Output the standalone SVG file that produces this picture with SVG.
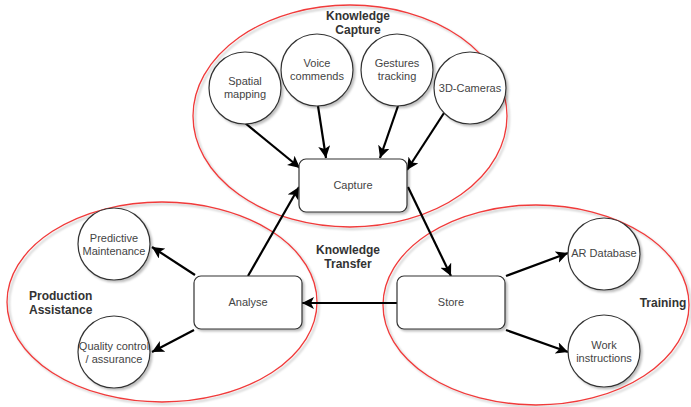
<svg xmlns="http://www.w3.org/2000/svg" width="691" height="407" viewBox="0 0 691 407">
<style>
.grp{fill:none;stroke:#f03a3a;stroke-width:1.3}
.node{fill:#fff;stroke:#333;stroke-width:1.2}
.t{font-family:"Liberation Sans",Arial,sans-serif;font-size:11px;fill:#444;text-anchor:middle}
.b{font-family:"Liberation Sans",Arial,sans-serif;font-size:12px;font-weight:bold;fill:#333}
.c{stroke:#000;stroke-width:2.2;fill:none;marker-end:url(#ah)}
</style>
<defs>
<filter id="sh" x="-20%" y="-20%" width="150%" height="150%">
<feDropShadow dx="2" dy="2" stdDeviation="1" flood-color="#000" flood-opacity="0.25"/>
</filter>
<marker id="ah" markerUnits="userSpaceOnUse" markerWidth="14" markerHeight="12" refX="12" refY="6" orient="auto">
<path d="M0,0 L12,6 L0,12 L3,6 z" fill="#000"/>
</marker>
</defs>
<g id="groups">
<ellipse class="grp" cx="350" cy="116" rx="157" ry="111" filter="url(#sh)"/>
<ellipse class="grp" cx="162" cy="302" rx="155" ry="100" filter="url(#sh)"/>
<ellipse class="grp" cx="536" cy="305" rx="153" ry="100" filter="url(#sh)"/>
</g>
<g id="labels">
<text class="b" x="358" y="20" text-anchor="middle">Knowledge</text>
<text class="b" x="358" y="34" text-anchor="middle">Capture</text>
<text class="b" x="348" y="254" text-anchor="middle">Knowledge</text>
<text class="b" x="348" y="268" text-anchor="middle">Transfer</text>
<text class="b" x="29" y="300">Production</text>
<text class="b" x="29" y="314">Assistance</text>
<text class="b" x="663" y="307" text-anchor="middle">Training</text>
</g>
<g id="connectors">
<line class="c" x1="245" y1="123" x2="300" y2="168"/>
<line class="c" x1="318" y1="106" x2="326" y2="158"/>
<line class="c" x1="398" y1="106" x2="380" y2="158"/>
<line class="c" x1="444" y1="113" x2="407" y2="170"/>
<line class="c" x1="248" y1="276" x2="299" y2="187"/>
<line class="c" x1="408" y1="187" x2="451" y2="276"/>
<line class="c" x1="397" y1="303" x2="302" y2="303"/>
<line class="c" x1="195" y1="275" x2="152" y2="247"/>
<line class="c" x1="194" y1="330" x2="152" y2="352"/>
<line class="c" x1="506" y1="276" x2="568" y2="253"/>
<line class="c" x1="506" y1="330" x2="568" y2="352"/>
</g>
<g id="capture"><rect class="node" x="299" y="159" width="108" height="53" rx="7" filter="url(#sh)"/><text class="t" x="353" y="189">Capture</text></g>
<g id="analyse"><rect class="node" x="194" y="276" width="108" height="53" rx="7" filter="url(#sh)"/><text class="t" x="248" y="306">Analyse</text></g>
<g id="store"><rect class="node" x="397" y="276" width="108" height="53" rx="7" filter="url(#sh)"/><text class="t" x="451" y="306">Store</text></g>
<g id="spatial"><circle class="node" cx="245" cy="88" r="36" filter="url(#sh)"/><text class="t" x="245" y="85">Spatial</text><text class="t" x="245" y="98">mapping</text></g>
<g id="voice"><circle class="node" cx="317" cy="70" r="36" filter="url(#sh)"/><text class="t" x="317" y="67">Voice</text><text class="t" x="317" y="80">commends</text></g>
<g id="gestures"><circle class="node" cx="397" cy="70" r="36" filter="url(#sh)"/><text class="t" x="397" y="67">Gestures</text><text class="t" x="397" y="80">tracking</text></g>
<g id="cameras"><circle class="node" cx="470" cy="88" r="36" filter="url(#sh)"/><text class="t" x="470" y="92">3D-Cameras</text></g>
<g id="predictive"><circle class="node" cx="114" cy="244" r="36" filter="url(#sh)"/><text class="t" x="114" y="242">Predictive</text><text class="t" x="114" y="255">Maintenance</text></g>
<g id="quality"><circle class="node" cx="114" cy="352" r="36" filter="url(#sh)"/><text class="t" x="114" y="350">Quality control</text><text class="t" x="114" y="363">/ assurance</text></g>
<g id="ardb"><circle class="node" cx="604" cy="254" r="36" filter="url(#sh)"/><text class="t" x="604" y="257">AR Database</text></g>
<g id="work"><circle class="node" cx="604" cy="351" r="36" filter="url(#sh)"/><text class="t" x="604" y="349">Work</text><text class="t" x="604" y="362">instructions</text></g>
</svg>
